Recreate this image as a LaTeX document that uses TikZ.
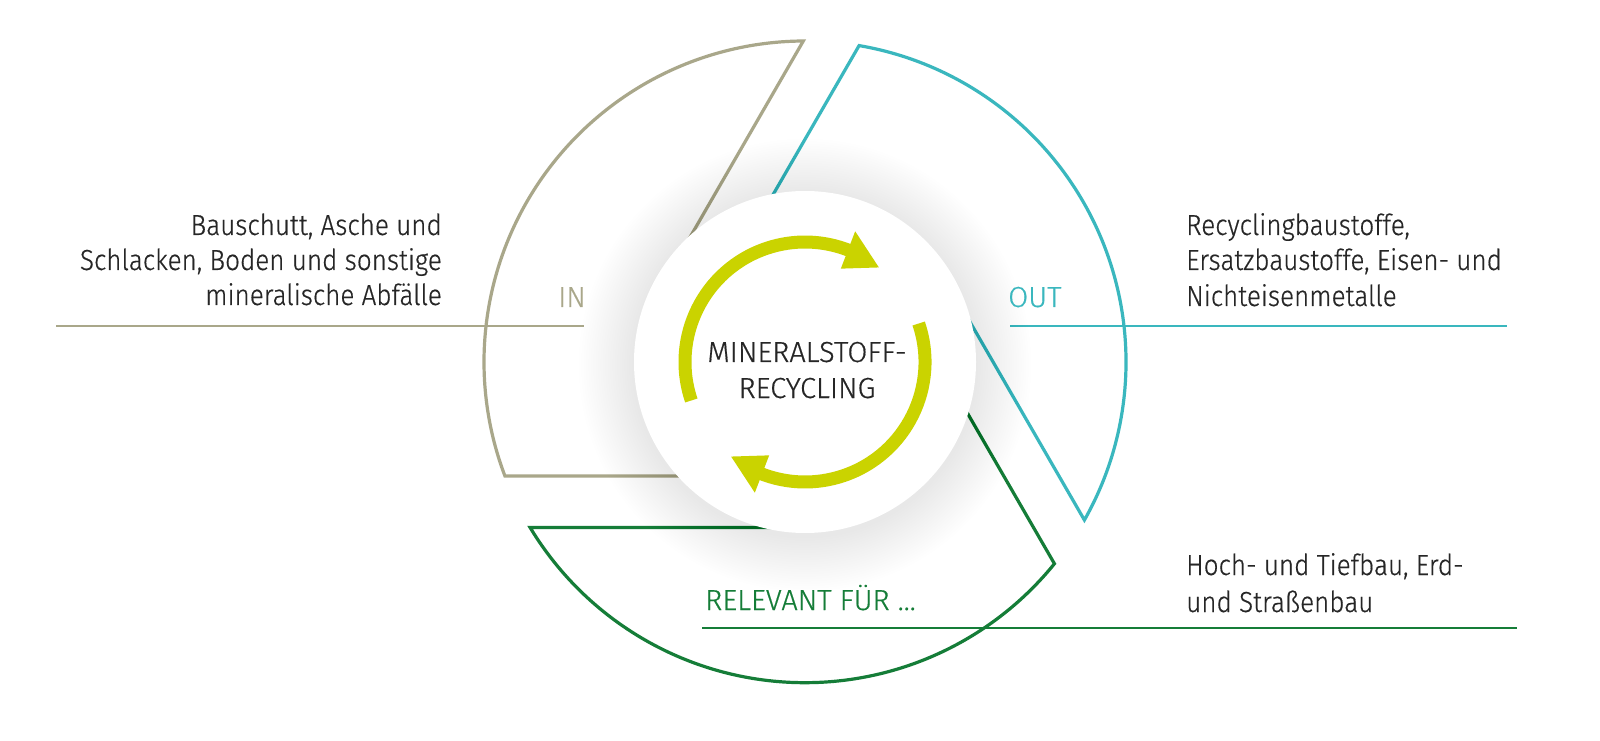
\documentclass[tikz,border=0pt]{standalone}
\usepackage{fontspec}
\IfFontExistsTF{Fira Sans Light}{%
  \setmainfont{Fira Sans Light}[FakeStretch=0.9, FakeBold=0.5]
  \newfontfamily\capfont{Fira Sans Light}[FakeBold=0.5]}{%
  \setmainfont{Fira Sans}[FakeStretch=0.9]
  \newfontfamily\capfont{Fira Sans}}
\usetikzlibrary{calc}
\definecolor{cin}{HTML}{A9A78A}
\definecolor{cout}{HTML}{3AB7BE}
\definecolor{crel}{HTML}{157D38}
\definecolor{carrow}{HTML}{CAD300}
\definecolor{ctext}{HTML}{262626}
\begin{document}
\begin{tikzpicture}[x=1pt,y=1pt,
  sector/.style={line width=3.2pt, line join=miter},
  labline/.style={line width=2pt},
  lbl/.style={font=\fontsize{29}{35}\selectfont, text=ctext, inner sep=0pt},
  caplbl/.style={font=\capfont\fontsize{29}{35}\selectfont, text=ctext, inner sep=0pt},
  cyc/.style={line width=13pt, carrow, line cap=butt}]
\useasboundingbox (0,0) rectangle (1600,740);
\fill[white] (0,0) rectangle (1600,740);
\coordinate (C) at (805,378);
% ---- sectors
\coordinate (gf1) at (664.8,459.1);
\coordinate (ga1) at (803.3,699.0);
\coordinate (gf2) at (805,264.0);
\draw[sector, cin] (gf1) -- (ga1) arc[start angle=90.3, end angle=200.8, radius=321pt] -- (gf2);
\coordinate (tf1) at (708.6,433.7);
\coordinate (ta1) at (859.1,694.4);
\coordinate (tf2) at (946.1,459.4);
\draw[sector, cout] (tf1) -- (ta1) arc[start angle=80.3, end angle=-29.5, radius=321pt] -- (tf2);
\coordinate (rf1) at (805,212.5);
\coordinate (ra1) at (530.1,212.5);
\coordinate (rf2) at (904.5,435.8);
\draw[sector, crel] (rf1) -- (ra1) arc[start angle=211.1, end angle=321, radius=321pt] -- (rf2);
% ---- label lines
\coordinate (gl1) at (56,414); \coordinate (gl2) at (584,414);
\coordinate (tl1) at (1010,414); \coordinate (tl2) at (1507,414);
\coordinate (rl1) at (702,112); \coordinate (rl2) at (1517,112);
\draw[labline, cin] (gl1) -- (gl2);
\draw[labline, cout] (tl1) -- (tl2);
\draw[labline, crel] (rl1) -- (rl2);
% ---- shadow and white disc
\foreach \i in {1,...,23}
  \fill[black, opacity=0.004] ($(C)+(0,-3)$) circle[radius={171pt+2.4pt*\i}];
\fill[white] (C) circle[radius=171pt];
% ---- cycle arrows
\begin{scope}[shift={(C)}]
  \draw[cyc] (198.7:120pt) arc[start angle=198.7, end angle=68, radius=120pt];
  \fill[carrow] (69:140pt) -- (52:120pt) -- (69:100pt) -- cycle;
  \draw[cyc] (18.7:120pt) arc[start angle=18.7, end angle=-112, radius=120pt];
  \fill[carrow] (249:140pt) -- (232:120pt) -- (249:100pt) -- cycle;
\end{scope}
% ---- texts
\node[caplbl, anchor=base] (m1) at (807,378) {MINERALSTOFF-};
\node[caplbl, anchor=base] (m2) at (807,342) {RECYCLING};
\node[lbl, anchor=base east] (l1) at (442,505) {Bauschutt, Asche und};
\node[lbl, anchor=base east] (l2) at (442,470) {Schlacken, Boden und sonstige};
\node[lbl, anchor=base east] (l3) at (442,435) {mineralische Abfälle};
\node[caplbl, anchor=base east, text=cin] (in) at (586,433) {IN};
\node[caplbl, anchor=base west, text=cout] (out) at (1008,433) {OUT};
\node[lbl, anchor=base west] (r1) at (1186,505) {Recyclingbaustoffe,};
\node[lbl, anchor=base west] (r2) at (1186,470) {Ersatzbaustoffe, Eisen- und};
\node[lbl, anchor=base west] (r3) at (1186,434) {Nichteisenmetalle};
\node[caplbl, anchor=base west, text=crel] (rel) at (705,130) {RELEVANT FÜR ...};
\node[lbl, anchor=base west] (h1) at (1186,165) {Hoch- und Tiefbau, Erd-};
\node[lbl, anchor=base west] (h2) at (1186,128) {und Straßenbau};
\end{tikzpicture}
\end{document}
